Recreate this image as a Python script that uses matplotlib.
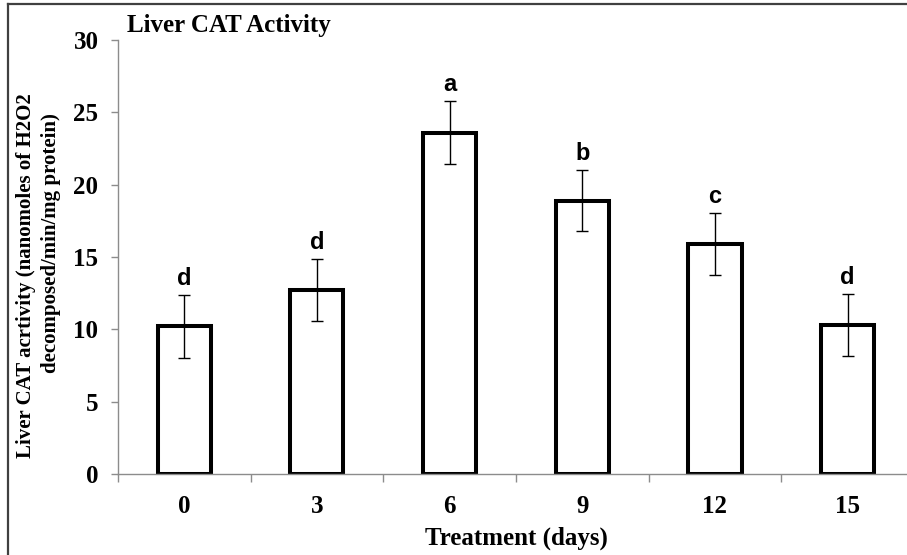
import matplotlib.pyplot as plt
from matplotlib.lines import Line2D
import numpy as np

days = ["0", "3", "6", "9", "12", "15"]
cat_activity = [10.2, 12.7, 23.6, 18.9, 15.9, 10.3]
sem = [2.15, 2.15, 2.15, 2.1, 2.15, 2.15]
groups = ["d", "d", "a", "b", "c", "d"]

serif = "Liberation Serif"
sans = "Liberation Sans"

fig = plt.figure(figsize=(9.07, 5.55), dpi=100)
ax = fig.add_axes([0.130, 0.146, 0.8777, 0.782])

x = np.arange(len(days))
ax.bar(x, cat_activity, width=0.4, color="white", edgecolor="black", linewidth=2.9, zorder=2)
ax.errorbar(x, cat_activity, yerr=sem, fmt="none", ecolor="black", elinewidth=1.0,
            capsize=4.3, capthick=1.0, zorder=3)

for xi, v, e, g in zip(x, cat_activity, sem, groups):
    ax.text(xi, v + e + 0.35, g, ha="center", va="bottom", fontsize=17,
            fontweight="bold", family=sans)

ax.set_xlim(-0.5, len(days) - 0.5)
ax.set_ylim(0, 30)
ax.set_yticks(range(0, 31, 5))
ax.set_xticks(x)
ax.set_xticklabels(days)
ax.set_xticks(np.arange(-0.5, len(days), 1.0), minor=True)
ax.tick_params(axis="x", which="major", length=0, pad=15)
ax.tick_params(axis="x", which="minor", length=6, color="#8c8c8c", width=1)
ax.tick_params(axis="y", length=5, color="#8c8c8c", width=1, pad=9)
for lbl in ax.get_xticklabels() + ax.get_yticklabels():
    lbl.set_family(serif)
    lbl.set_fontweight("bold")
    lbl.set_fontsize(18)

for side in ["top", "right"]:
    ax.spines[side].set_visible(False)
for side in ["left", "bottom"]:
    ax.spines[side].set_color("#8c8c8c")
    ax.spines[side].set_linewidth(1)

# axis titles
fig.text(0.569, 0.018, "Treatment (days)", family=serif, fontweight="bold",
         fontsize=18, ha="center", va="baseline")
fig.text(0.029, 1 - 276 / 555, "Liver CAT acrtivity (nanomoles of H2O2", family=serif,
         fontweight="bold", fontsize=15, rotation=90, ha="center", va="center")
fig.text(0.056, 1 - 243 / 555, "decomposed/min/mg protein)", family=serif,
         fontweight="bold", fontsize=15, rotation=90, ha="center", va="center")

fig.text(0.14, 1 - 32 / 555, "Liver CAT Activity", family=serif, fontweight="bold",
         fontsize=18, ha="left", va="baseline")

# outer frame (left and top edges)
fig.add_artist(Line2D([0.009, 0.009], [0.0, 0.992], transform=fig.transFigure,
                      color="#404040", linewidth=1.6))
fig.add_artist(Line2D([0.009, 0.999], [0.992, 0.992], transform=fig.transFigure,
                      color="#404040", linewidth=1.6))

fig.savefig("out.png", dpi=100)
